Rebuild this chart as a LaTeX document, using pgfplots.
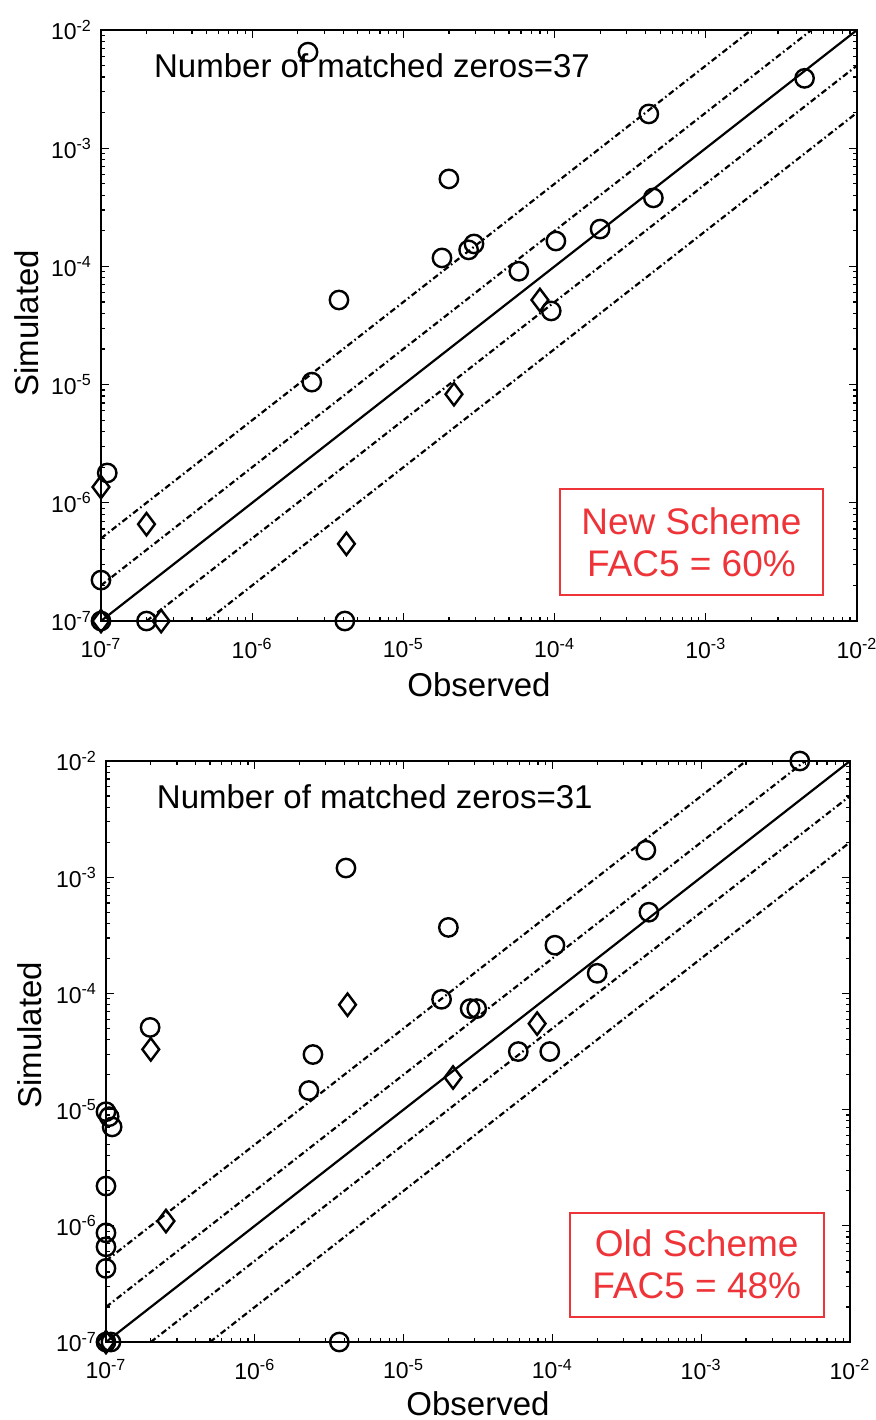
\documentclass[border=0pt]{standalone}
\usepackage{fontspec}
\setmainfont{Liberation Sans}
\usepackage{pgfplots}
\usepackage{pgfplotstable}
\pgfplotsset{compat=1.18}
\definecolor{boxred}{RGB}{238,52,56}

% observed vs simulated, new scheme
\pgfplotstableread{
x y
2.34e-6 6.5e-3
4.5e-3 3.9e-3
4.2e-4 1.95e-3
2.0e-5 5.5e-4
4.5e-4 3.8e-4
2.0e-4 2.07e-4
1.02e-4 1.64e-4
2.93e-5 1.55e-4
2.7e-5 1.38e-4
1.8e-5 1.18e-4
5.8e-5 9.1e-5
3.75e-6 5.2e-5
9.5e-5 4.2e-5
2.48e-6 1.05e-5
1.1e-7 1.79e-6
1e-7 2.22e-7
1e-7 1e-7
2.0e-7 1e-7
4.1e-6 1e-7
}\newcirc
\pgfplotstableread{
x y
1e-7 1.36e-6
2.0e-7 6.6e-7
4.2e-6 4.5e-7
2.5e-7 1e-7
2.16e-5 8.3e-6
8.0e-5 5.2e-5
1e-7 1e-7
}\newdiam

% old scheme
\pgfplotstableread{
x y
4.6e-3 1e-2
4.25e-4 1.71e-3
4.1e-6 1.2e-3
2.0e-5 3.7e-4
4.45e-4 5.0e-4
1.04e-4 2.6e-4
2.0e-4 1.49e-4
1.8e-5 8.9e-5
2.8e-5 7.4e-5
3.1e-5 7.4e-5
1.98e-7 5.1e-5
2.46e-6 2.98e-5
2.31e-6 1.46e-5
5.9e-5 3.16e-5
9.6e-5 3.16e-5
1e-7 9.6e-6
1.05e-7 8.7e-6
1.1e-7 7.1e-6
1e-7 2.2e-6
1e-7 8.7e-7
1e-7 6.6e-7
1e-7 4.3e-7
1e-7 1e-7
1.08e-7 1e-7
3.7e-6 1e-7
}\oldcirc
\pgfplotstableread{
x y
2.0e-7 3.3e-5
4.2e-6 8.0e-5
2.53e-7 1.1e-6
2.15e-5 1.89e-5
7.9e-5 5.5e-5
1e-7 1e-7
}\olddiam

\tikzset{
  refline/.style={black, line width=1.1pt,
    dash pattern=on 3pt off 1.5pt on 0.8pt off 1.5pt},
}

\newcommand\reflines{%
  \addplot[black, line width=1.1pt] coordinates {(1e-7,1e-7) (1e-2,1e-2)};
  \addplot[refline] coordinates {(1e-7,2e-7) (5e-3,1e-2)};
  \addplot[refline] coordinates {(1e-7,5e-7) (2e-3,1e-2)};
  \addplot[refline] coordinates {(2e-7,1e-7) (1e-2,5e-3)};
  \addplot[refline] coordinates {(5e-7,1e-7) (1e-2,2e-3)};
}

\begin{document}
\begin{tikzpicture}
\useasboundingbox (0,0) rectangle (438pt,-710pt);

\begin{axis}[
  xmode=log, ymode=log,
  scale only axis,
  at={(50.5pt,-15pt)}, anchor=north west,
  width=378pt, height=295.5pt,
  xmin=1e-7, xmax=1e-2, ymin=1e-7, ymax=1e-2,
  xtick={1e-7,1e-6,1e-5,1e-4,1e-3,1e-2},
  ytick={1e-7,1e-6,1e-5,1e-4,1e-3,1e-2},
  xticklabels={10\textsuperscript{-7},10\textsuperscript{-6},10\textsuperscript{-5},10\textsuperscript{-4},10\textsuperscript{-3},10\textsuperscript{-2}},
  yticklabels={10\textsuperscript{-7},10\textsuperscript{-6},10\textsuperscript{-5},10\textsuperscript{-4},10\textsuperscript{-3},10\textsuperscript{-2}},
  tick label style={font=\fontsize{11.5}{13}\selectfont},
  xticklabel style={yshift=-5pt},
  yticklabel style={xshift=-1pt},
  tick align=inside,
  major tick length=4pt, minor tick length=2pt,
  tick style={black, line width=0.6pt},
  axis line style={line width=0.9pt},
  xlabel={Observed}, ylabel={Simulated},
  label style={font=\fontsize{16.5}{18}\selectfont},
  xlabel style={at={(axis description cs:0.5,-0.107)}, anchor=center},
  ylabel style={at={(axis description cs:-0.098,0.504)}, anchor=center},
  clip=false,
]
\reflines
\addplot[only marks, mark=o, mark size=4.6pt, mark options={line width=1.2pt, black}] table {\newcirc};
\addplot[only marks, mark=diamond, mark size=5.6pt, mark options={line width=1.2pt, black}] table {\newdiam};
\node[anchor=west, font=\fontsize{16.5}{18}\selectfont]
  at (rel axis cs:0.061,0.939) {Number of matched zeros=37};
\node[draw=boxred, text=boxred, line width=0.9pt, align=center,
  minimum width=131.5pt, minimum height=53pt,
  font=\fontsize{18.5}{21}\selectfont]
  at (rel axis cs:0.781,0.134) {New Scheme\\FAC5 = 60\%};
\end{axis}

\begin{axis}[
  xmode=log, ymode=log,
  scale only axis,
  at={(53pt,-380.5pt)}, anchor=north west,
  width=372pt, height=290.5pt,
  xmin=1e-7, xmax=1e-2, ymin=1e-7, ymax=1e-2,
  xtick={1e-7,1e-6,1e-5,1e-4,1e-3,1e-2},
  ytick={1e-7,1e-6,1e-5,1e-4,1e-3,1e-2},
  xticklabels={10\textsuperscript{-7},10\textsuperscript{-6},10\textsuperscript{-5},10\textsuperscript{-4},10\textsuperscript{-3},10\textsuperscript{-2}},
  yticklabels={10\textsuperscript{-7},10\textsuperscript{-6},10\textsuperscript{-5},10\textsuperscript{-4},10\textsuperscript{-3},10\textsuperscript{-2}},
  tick label style={font=\fontsize{11.5}{13}\selectfont},
  xticklabel style={yshift=-5pt},
  yticklabel style={xshift=-1pt},
  tick align=inside,
  major tick length=4pt, minor tick length=2pt,
  tick style={black, line width=0.6pt},
  axis line style={line width=0.9pt},
  xlabel={Observed}, ylabel={Simulated},
  label style={font=\fontsize{16.5}{18}\selectfont},
  xlabel style={at={(axis description cs:0.5,-0.107)}, anchor=center},
  ylabel style={at={(axis description cs:-0.102,0.528)}, anchor=center},
  clip=false,
]
\reflines
\addplot[only marks, mark=o, mark size=4.6pt, mark options={line width=1.2pt, black}] table {\oldcirc};
\addplot[only marks, mark=diamond, mark size=5.6pt, mark options={line width=1.2pt, black}] table {\olddiam};
\node[anchor=west, font=\fontsize{16.5}{18}\selectfont]
  at (rel axis cs:0.059,0.938) {Number of matched zeros=31};
\node[draw=boxred, text=boxred, line width=0.9pt, align=center,
  minimum width=127pt, minimum height=52pt,
  font=\fontsize{18.5}{21}\selectfont]
  at (rel axis cs:0.794,0.133) {Old Scheme\\FAC5 = 48\%};
\end{axis}
\end{tikzpicture}
\end{document}
